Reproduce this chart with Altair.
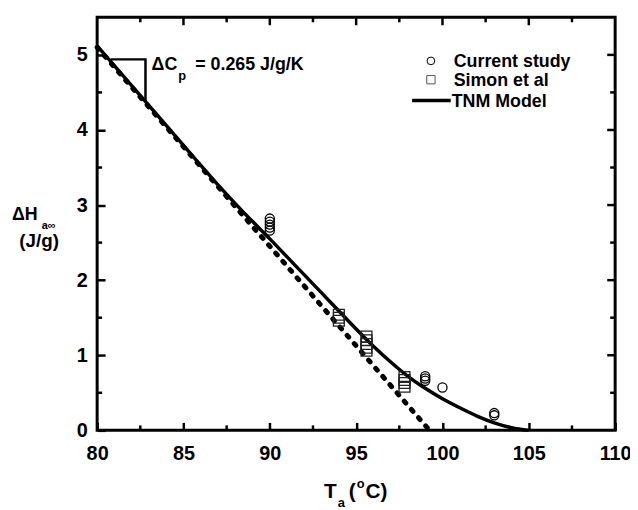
import altair as alt
import pandas as pd

# ---- data ----
cur_T = [90, 90, 90, 90, 90, 99, 99, 99, 100, 103, 103]
cur_H = [2.82, 2.78, 2.74, 2.70, 2.66, 0.72, 0.69, 0.66, 0.57, 0.23, 0.20]

sim_T = [94, 94, 94, 95.6, 95.6, 95.6, 95.6, 95.6, 97.8, 97.8, 97.8, 97.8]
sim_H = [1.54, 1.50, 1.46, 1.25, 1.20, 1.15, 1.10, 1.06, 0.71, 0.67, 0.63, 0.58]

tnm_T = [80, 82, 84, 86, 87, 88, 89, 90, 91, 92, 93, 94, 95, 96, 97, 98, 99, 100, 101, 102, 103, 104, 105]
tnm_H = [5.12, 4.59, 4.06, 3.53, 3.27, 3.02, 2.78, 2.55, 2.31, 2.07, 1.83, 1.59, 1.35, 1.12, 0.91,
         0.72, 0.56, 0.42, 0.30, 0.19, 0.10, 0.035, 0.0]

eq_T = [80, 99.25]
eq_H = [5.10, 0.0]

tri_T = [80.8, 82.8, 82.8]
tri_H = [4.94, 4.94, 4.39]

x_major = [85, 90, 95, 100, 105]
x_minor = [82.5, 87.5, 92.5, 97.5, 102.5, 107.5]
y_major = [1, 2, 3, 4, 5]
y_minor = [0.5, 1.5, 2.5, 3.5, 4.5]
x_labels = [80, 85, 90, 95, 100, 105, 110]
y_labels = [0, 1, 2, 3, 4, 5]

W, H = 523, 417
FONT = "Liberation Sans"

xs = alt.Scale(domain=[80, 110], nice=False, zero=False)
ys = alt.Scale(domain=[0, 5.5], nice=False, zero=False)


def build(axis_ticks):
    tick_kw_x = {"ticks": False}
    tick_kw_y = {"ticks": False}
    pad_x, pad_y = 13, 10
    if axis_ticks:
        tick_kw_x = {"ticks": True, "tickSize": alt.ExprRef(expr="-8"), "tickWidth": 2.5,
                     "tickColor": "black"}
        tick_kw_y = dict(tick_kw_x)
        pad_x, pad_y = 21, 18

    X = lambda f: alt.X(f, type="quantitative", scale=xs,
                        axis=alt.Axis(values=x_labels, title=None, labelFlush=False, labelPadding=pad_x,
                                      labelFontSize=20, labelFontWeight="bold", labelFont=FONT,
                                      labelColor="black", domain=False, grid=False, **tick_kw_x))
    Y = lambda f: alt.Y(f, type="quantitative", scale=ys,
                        axis=alt.Axis(values=y_labels, title=None, labelFlush=False, labelPadding=pad_y,
                                      labelFontSize=20, labelFontWeight="bold", labelFont=FONT,
                                      labelColor="black", domain=False, grid=False, **tick_kw_y))

    one = pd.DataFrame({"a": [0]})

    eq = alt.Chart(pd.DataFrame({"T": eq_T, "H": eq_H})).mark_line(
        color="black", strokeWidth=5, strokeDash=[2.5, 8.5], strokeCap="round"
    ).encode(x=X("T"), y=Y("H"))

    tnm = alt.Chart(pd.DataFrame({"T": tnm_T, "H": tnm_H})).mark_line(
        color="black", strokeWidth=3.5, interpolate="monotone"
    ).encode(x=X("T"), y=Y("H"))

    cur = alt.Chart(pd.DataFrame({"T": cur_T, "H": cur_H})).mark_point(
        shape="circle", filled=False, color="black", size=85, strokeWidth=1.3, opacity=1
    ).encode(x=X("T"), y=Y("H"))

    sim = alt.Chart(pd.DataFrame({"T": sim_T, "H": sim_H})).mark_point(
        shape="square", filled=False, color="#222", size=120, strokeWidth=1.3, opacity=1
    ).encode(x=X("T"), y=Y("H"))

    tri = alt.Chart(pd.DataFrame({"T": tri_T, "H": tri_H, "o": [0, 1, 2]})).mark_line(
        color="black", strokeWidth=2.5
    ).encode(x=X("T"), y=Y("H"), order="o:Q")

    def tick_rules(vals, side, length):
        col = "T" if side in ("bottom", "top") else "H"
        base = alt.Chart(pd.DataFrame({col: vals})).mark_rule(color="#000000", strokeWidth=2.5, opacity=1)
        if side == "bottom":
            return base.encode(x=X("T"), y=alt.value(H - length), y2=alt.value(H))
        if side == "top":
            return base.encode(x=X("T"), y=alt.value(0), y2=alt.value(length))
        if side == "left":
            return base.encode(y=Y("H"), x=alt.value(0), x2=alt.value(length))
        return base.encode(y=Y("H"), x=alt.value(W - length), x2=alt.value(W))

    tick_layers = [
        tick_rules(x_minor, "bottom", 5),
        tick_rules(x_major, "top", 8), tick_rules(x_minor, "top", 5),
        tick_rules(y_minor, "left", 5),
        tick_rules(y_major, "right", 8), tick_rules(y_minor, "right", 5),
    ]

    def txt(s, x, y, size, align="left"):
        return alt.Chart(one).mark_text(
            text=s, font=FONT, fontWeight="bold", fontSize=size, color="black",
            align=align, baseline="alphabetic"
        ).encode(x=alt.value(x), y=alt.value(y))

    texts = [
        # slope annotation
        txt("ΔC", 55, 53, 18), txt("p", 82, 63, 13), txt("= 0.265 J/g/K", 99, 53, 18),
        # legend texts
        txt("Current study", 360, 50.5, 18), txt("Simon et al", 360, 69.5, 18), txt("TNM Model", 358, 90.5, 18),
        # y title
        txt("ΔH", -86, 205, 18), txt("a∞", -56, 214, 11), txt("(J/g)", -58.5, 232, 19, "center"),
        # x title
        txt("T", 229, 485, 21), txt("a", 243, 494, 13), txt("(", 254, 485, 21),
        txt("o", 262, 475, 13), txt("C)", 271, 485, 21),
    ]

    leg_c = alt.Chart(one).mark_point(shape="circle", filled=False, color="black", size=60, strokeWidth=1,
                                      opacity=1).encode(x=alt.value(337), y=alt.value(44))
    leg_s = alt.Chart(one).mark_point(shape="square", filled=False, color="#555", size=70, strokeWidth=1,
                                      opacity=1).encode(x=alt.value(337), y=alt.value(63))
    leg_l = alt.Chart(one).mark_rule(color="black", strokeWidth=3.5).encode(
        x=alt.value(318), x2=alt.value(357), y=alt.value(84))

    frame = alt.Chart(one).mark_rect(fill="transparent", stroke="black", strokeWidth=3).encode(
        x=alt.value(0), x2=alt.value(W), y=alt.value(0), y2=alt.value(H))

    return alt.layer(
        eq, tnm, cur, sim, tri, *tick_layers, leg_c, leg_s, leg_l, *texts, frame
    ).properties(
        width=W, height=H,
        autosize=alt.AutoSizeParams(type="none"),
        padding={"left": 90, "top": 7, "right": 15, "bottom": 78},
        background="white",
    ).configure_view(
        stroke=None
    )


try:
    chart = build(True)
    chart.to_dict()
except Exception:
    chart = build(False)

chart.save("out.html", embed_options={"renderer": "svg", "actions": False})
